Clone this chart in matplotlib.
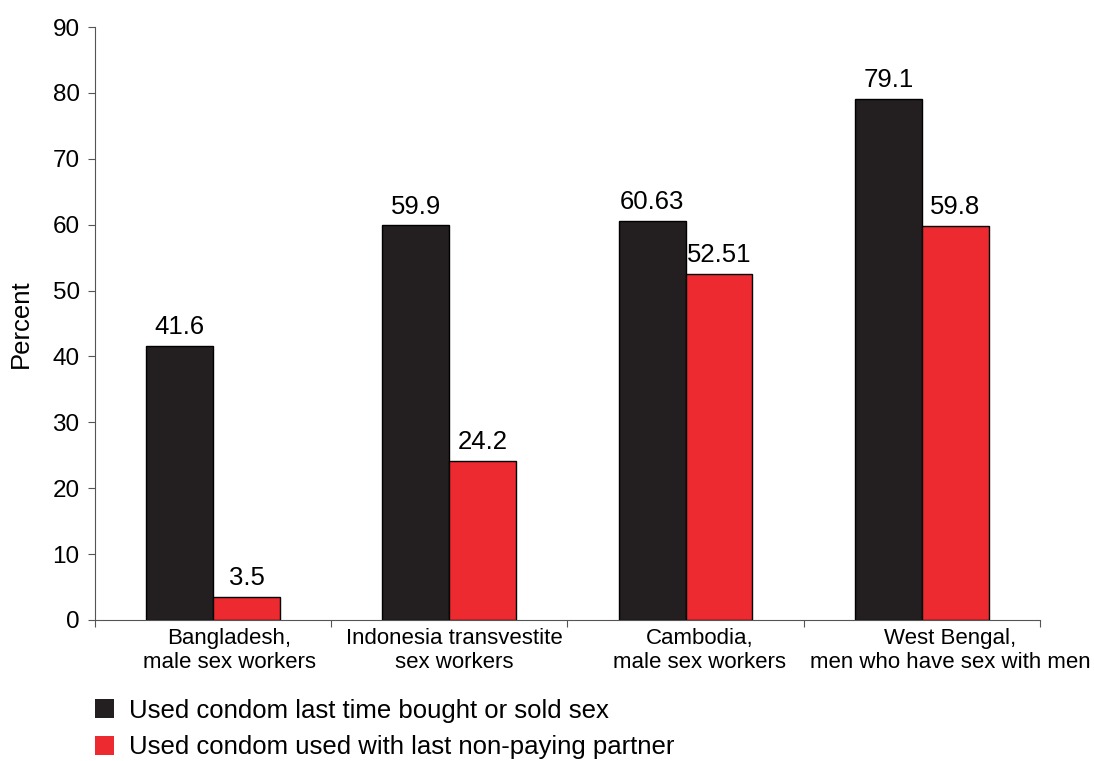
import numpy as np
import matplotlib.pyplot as plt
from matplotlib.patches import Patch

plt.rcParams['font.family'] = ['Liberation Sans', 'DejaVu Sans']

categories = ["Bangladesh,\nmale sex workers", "Indonesia transvestite\nsex workers",
              "Cambodia,\nmale sex workers", "West Bengal,\nmen who have sex with men"]
bought_sold = [41.6, 59.9, 60.63, 79.1]
non_paying = [3.5, 24.2, 52.51, 59.8]
bought_labels = ["41.6", "59.9", "60.63", "79.1"]
non_paying_labels = ["3.5", "24.2", "52.51", "59.8"]
series_names = ["Used condom last time bought or sold sex",
                "Used condom used with last non-paying partner"]

c_black = '#231f20'
c_red = '#ec2a2f'

fig = plt.figure(figsize=(10.94, 7.61), dpi=100)
ax = fig.add_axes([0.0868, 0.1853, 0.8638, 0.7792])

x = np.arange(len(categories))
w = 0.283
ax.bar(x - w/2, bought_sold, w, color=c_black, edgecolor='black', linewidth=1)
ax.bar(x + w/2, non_paying, w, color=c_red, edgecolor='black', linewidth=1)

for xi, v, s in zip(x - w/2, bought_sold, bought_labels):
    ax.text(xi, v + 1.0, s, ha='center', va='bottom', fontsize=18.5)
for xi, v, s in zip(x + w/2, non_paying, non_paying_labels):
    ax.text(xi, v + 1.0, s, ha='center', va='bottom', fontsize=18.5)

ax.set_xlim(-0.5, len(categories) - 0.5)
ax.set_ylim(0, 90)
ax.set_yticks(np.arange(0, 91, 10))
ax.tick_params(axis='y', labelsize=17.5, length=5, color='#555555', pad=6)
ax.set_xticks(np.arange(-0.5, len(categories), 1))
ax.set_xticklabels([])
ax.tick_params(axis='x', length=5, color='#555555')

offsets = [0.07, 0.02, 0.06, 0.12]
for xi, lab, off in zip(x, categories, offsets):
    ax.text(xi + off, -1.2, lab, ha='center', va='top', fontsize=16, linespacing=1.2)

for s in ['top', 'right']:
    ax.spines[s].set_visible(False)
for s in ['left', 'bottom']:
    ax.spines[s].set_color('#555555')

ax.set_ylabel('Percent', fontsize=18.5, labelpad=14)

handles = [Patch(facecolor=c_black, edgecolor='none'), Patch(facecolor=c_red, edgecolor='none')]
fig.legend(handles, series_names, loc='upper left', bbox_to_anchor=(0.087, 0.082),
           frameon=False, fontsize=18.5, handlelength=0.72, handleheight=0.72,
           handletextpad=0.6, labelspacing=0.5, borderaxespad=0, borderpad=0)

fig.savefig('out.png', dpi=100)
